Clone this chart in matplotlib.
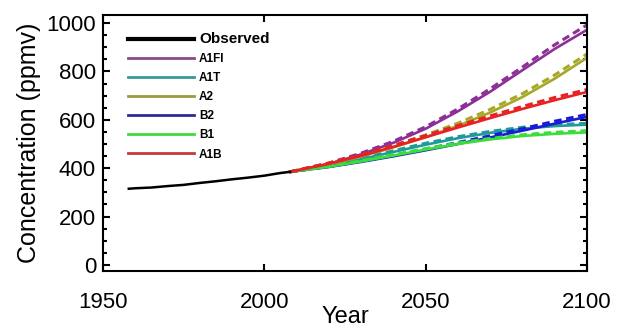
import numpy as np
import matplotlib
matplotlib.use('Agg')
import matplotlib.pyplot as plt
from matplotlib.ticker import MultipleLocator

plt.rcParams['font.family'] = ['Liberation Sans', 'DejaVu Sans']

# observed record
obs_years = [1958, 1960, 1965, 1970, 1975, 1980, 1985, 1990, 1995, 2000, 2005, 2008]
obs_conc = [315, 317, 320, 326, 331, 339, 346, 354, 361, 369, 380, 385]

# scenario years
years = [2008, 2020, 2030, 2040, 2050, 2060, 2070, 2080, 2090, 2100]

# solid curves
a1fi = [385, 418, 457, 505, 563, 635, 716, 805, 893, 972]
a1t = [385, 410, 437, 467, 497, 524, 546, 563, 574, 580]
a2 = [385, 415, 448, 486, 528, 575, 630, 694, 770, 856]
b2 = [385, 405, 426, 449, 474, 500, 527, 555, 584, 612]
b1 = [385, 406, 428, 452, 477, 500, 519, 533, 542, 548]
a1b = [385, 418, 451, 488, 528, 568, 607, 645, 681, 715]

# dashed curves
a1fi_d = [385, 421, 462, 511, 571, 645, 728, 818, 910, 992]
a1t_d = [385, 412, 441, 472, 503, 530, 552, 569, 580, 585]
a2_d = [385, 418, 453, 493, 537, 586, 643, 708, 785, 872]
b2_d = [385, 407, 429, 453, 479, 506, 534, 563, 594, 622]
b1_d = [385, 408, 431, 456, 481, 504, 523, 538, 548, 555]
a1b_d = [385, 421, 456, 494, 535, 576, 616, 655, 692, 725]

labels = ['A1FI', 'A1T', 'A2', 'B2', 'B1', 'A1B']
colors = ['#8c2f96', '#1f9a9a', '#a8a828', '#1a1ad8', '#3ade3a', '#e82222']
leg_colors = ['#8a4a8a', '#3a9898', '#9a9a40', '#2a2aa0', '#40d840', '#c83a3a']
solid = [a1fi, a1t, a2, b2, b1, a1b]
dashed = [a1fi_d, a1t_d, a2_d, b2_d, b1_d, a1b_d]

fig = plt.figure(figsize=(6.17, 3.29), dpi=100)
ax = fig.add_axes([0.1669, 0.1763, 0.7844, 0.778])

for s, d, c in zip(solid, dashed, colors):
    ax.plot(years, d, color=c, lw=2.2, ls=(0, (2.5, 1.5)))
    ax.plot(years, s, color=c, lw=1.9)

ax.plot(obs_years, obs_conc, color='black', lw=1.8)

# legend handles
handles = [ax.plot([], [], color='black', lw=3)[0]]
for c in leg_colors:
    handles.append(ax.plot([], [], color=c, lw=2)[0])
leg = ax.legend(handles, ['Observed'] + labels, loc='upper left',
                bbox_to_anchor=(0.03, 0.975), frameon=False,
                handlelength=5.6, handletextpad=0.4, labelspacing=0.6,
                prop={'size': 8.5, 'weight': 'bold'})
leg.get_texts()[0].set_fontsize(11)

ax.set_xlim(1950, 2100)
ax.set_ylim(-25, 1033)
ax.xaxis.set_major_locator(MultipleLocator(50))
ax.yaxis.set_major_locator(MultipleLocator(200))
ax.yaxis.set_minor_locator(MultipleLocator(50))
ax.tick_params(which='both', direction='in', top=True, right=True, width=1.5)
ax.tick_params(which='major', length=5)
ax.tick_params(which='minor', length=3)
ax.tick_params(axis='x', labelsize=16, pad=15)
ax.tick_params(axis='y', labelsize=16, pad=5)
for sp in ax.spines.values():
    sp.set_linewidth(1.5)

ax.set_xlabel('Year', fontsize=17, labelpad=-5)
ax.set_ylabel('Concentration (ppmv)', fontsize=18, labelpad=4)

fig.savefig('out.png', dpi=100)
